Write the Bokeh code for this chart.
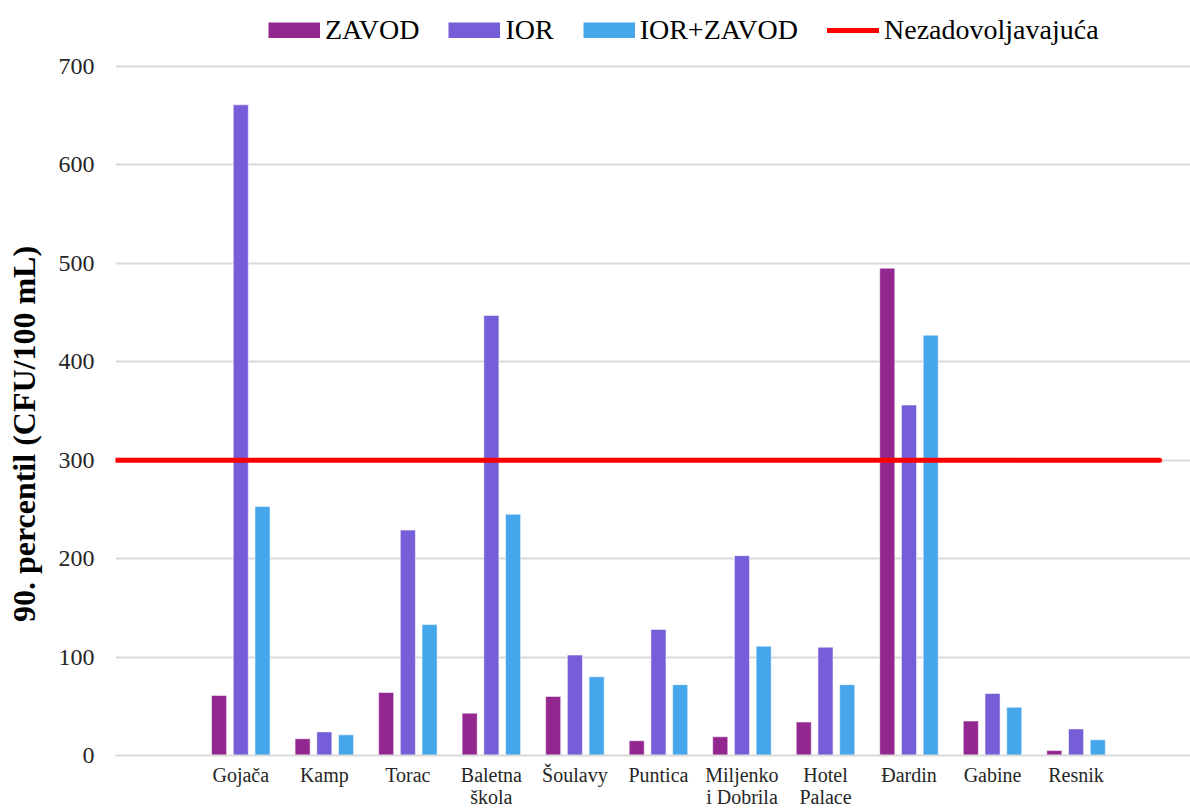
import numpy as np
from bokeh.plotting import figure
from bokeh.models import ColumnDataSource, FixedTicker, Legend, LegendItem, Range1d
from bokeh.transform import dodge
from bokeh.embed import file_html
from bokeh.resources import INLINE

categories = ["Gojača", "Kamp", "Torac", "Baletna\nškola", "Šoulavy", "Puntica",
              "Miljenko\ni Dobrila", "Hotel\nPalace", "Đardin", "Gabine", "Resnik"]
zavod = [61, 17, 64, 43, 60, 15, 19, 34, 495, 35, 5]
ior = [661, 24, 229, 447, 102, 128, 203, 110, 356, 63, 27]
ior_zavod = [253, 21, 133, 245, 80, 72, 111, 72, 427, 49, 16]
threshold = 300
series_names = ["ZAVOD", "IOR", "IOR+ZAVOD"]
threshold_name = "Nezadovoljavajuća"
y_ticks = [0, 100, 200, 300, 400, 500, 600, 700]
y_title = "90. percentil (CFU/100 mL)"

colors = ["#92278F", "#765ED8", "#46A6EB"]
FONT = "Liberation Serif"

x = np.arange(1, len(categories) + 1)
src = ColumnDataSource(dict(x=x, zavod=zavod, ior=ior, iz=ior_zavod))

p = figure(frame_width=1075, frame_height=755, output_backend="svg", toolbar_location=None,
           x_range=Range1d(-0.5, 12.37), y_range=Range1d(0, 767.0),
           min_border_left=115, min_border_right=0, min_border_top=0,
           min_border_bottom=0)
p.outline_line_color = None
p.background_fill_color = "white"

offs = [-0.26, 0.0, 0.26]
fields = ["zavod", "ior", "iz"]
rs = []
for f, o, c in zip(fields, offs, colors):
    p.vbar(x=dodge("x", o), top=f, width=0.18, source=src, fill_color=c,
           line_color="white", line_alpha=0.5, line_width=1)
    # legend swatch only (NaN data draws nothing in the plot)
    rs.append(p.line(x=[np.nan, np.nan], y=[np.nan, np.nan], line_color=c,
                     line_width=16, line_cap="butt"))

lr = p.line(x=[-0.6, len(categories) + 1.0], y=[threshold, threshold],
            line_color="#FF0000", line_width=5, line_cap="round")

p.xaxis.ticker = FixedTicker(ticks=list(x))
p.xaxis.major_label_overrides = {int(i): c for i, c in zip(x, categories)}
p.xaxis.major_label_text_font = FONT
p.xaxis.major_label_text_font_size = "20px"
p.xaxis.major_label_text_line_height = 1.0
p.xaxis.major_label_text_color = "#262626"
p.xaxis.major_tick_line_color = None
p.xaxis.major_tick_out = 0
p.xaxis.major_tick_in = 0
p.xaxis.minor_tick_line_color = None
p.xaxis.axis_line_color = "#d9d9d9"
p.xaxis.axis_line_width = 2
p.xaxis.major_label_standoff = 8
p.xaxis.axis_label_standoff = 0

p.yaxis.ticker = FixedTicker(ticks=y_ticks)
p.yaxis.major_label_text_font = FONT
p.yaxis.major_label_text_font_size = "24px"
p.yaxis.major_label_text_color = "#262626"
p.yaxis.major_tick_line_color = None
p.yaxis.major_tick_out = 0
p.yaxis.major_tick_in = 0
p.yaxis.minor_tick_line_color = None
p.yaxis.axis_line_color = None
p.yaxis.major_label_standoff = 21
p.yaxis.axis_label = y_title + "\u00a0" * 14
p.yaxis.axis_label_text_font = FONT
p.yaxis.axis_label_text_font_size = "32px"
p.yaxis.axis_label_text_font_style = "bold"
p.yaxis.axis_label_text_color = "black"
p.yaxis.axis_label_standoff = 14

p.xgrid.grid_line_color = None
p.ygrid.grid_line_color = "#d9d9d9"
p.ygrid.grid_line_width = 2

items = [LegendItem(label=n, renderers=[r]) for n, r in zip(series_names, rs)]
items.append(LegendItem(label=threshold_name, renderers=[lr]))
legend = Legend(items=items, orientation="horizontal", location=(153, 709),
                glyph_width=52, glyph_height=16, label_standoff=5, spacing=29,
                label_text_font=FONT, label_text_font_size="28px",
                label_text_color="black", border_line_color=None,
                background_fill_alpha=0, padding=2, margin=0)
p.add_layout(legend, "center")

open("out.html", "w").write(file_html(p, INLINE))
